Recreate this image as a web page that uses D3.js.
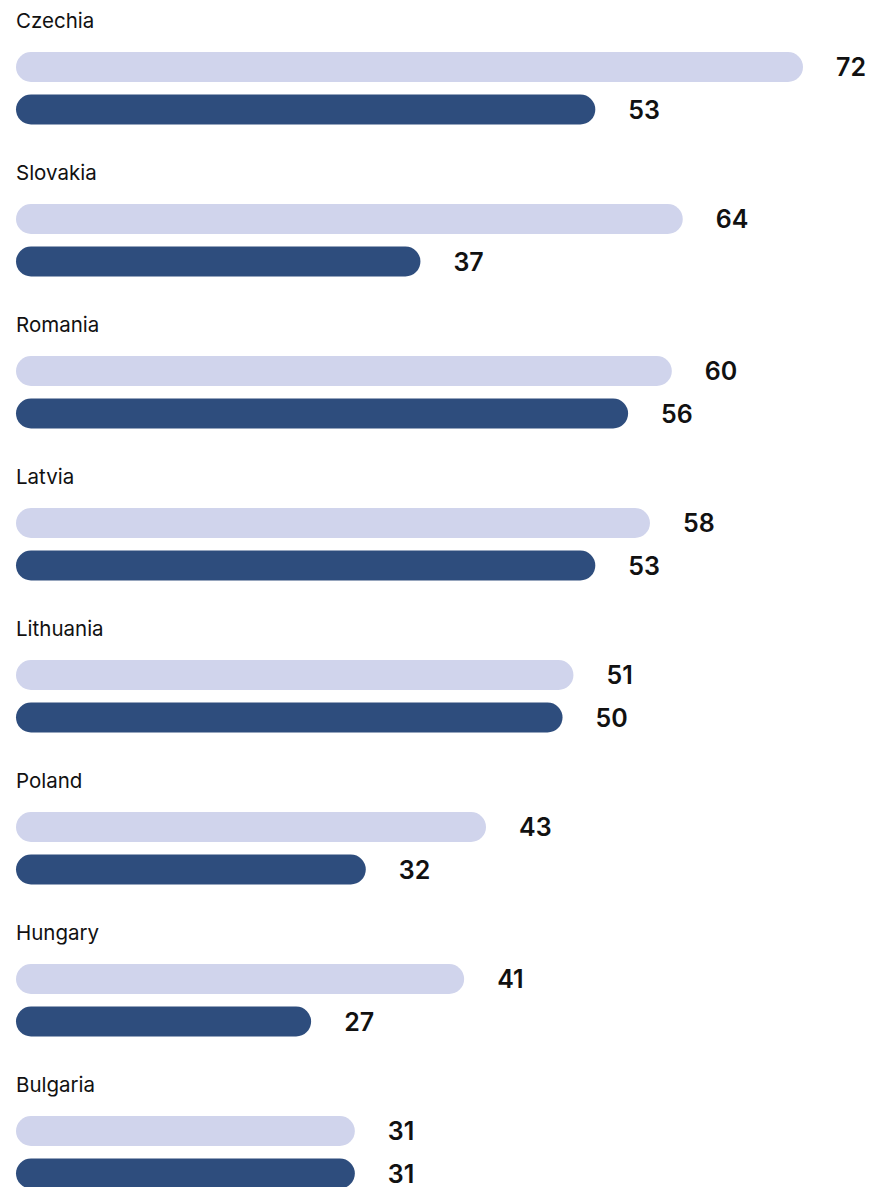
<!DOCTYPE html>
<html><head><meta charset="utf-8">
<script src="https://cdn.jsdelivr.net/npm/d3@7"></script>
<style>body{margin:0;background:#fff}svg{display:block}</style>
</head><body>
<script>
const categories = ["Czechia","Slovakia","Romania","Latvia","Lithuania","Poland","Hungary","Bulgaria"];
// bar lengths as drawn in the reference
const seriesA = [72,61,60,58,51,43,41,31];
const seriesB = [53,37,56,53,50,32,27,31];
// value labels as printed in the reference
const labelsA = ["72","64","60","58","51","43","41","31"];
const labelsB = ["53","37","56","53","50","32","27","31"];

const W = 873, H = 1187;
const svg = d3.select("body").append("svg").attr("width",W).attr("height",H);
const x = d3.scaleLinear().domain([0,72]).range([16,803]);
const y = d3.scaleBand().domain(categories).range([0,1216]);
const barH = 30;
const font = "Inter, 'Noto Sans', sans-serif";

const g = svg.selectAll("g.cat").data(categories).join("g")
  .attr("transform", d => `translate(0,${y(d)})`);

g.append("text").attr("x",16).attr("y",28).text(d=>d)
  .attr("font-family",font).attr("font-size",20.5).attr("fill","#111");

const rows = [{vals:seriesA, labels:labelsA, color:"#d0d4ec", cy:67},
              {vals:seriesB, labels:labelsB, color:"#2e4d7d", cy:109.5}];
rows.forEach(r=>{
  g.append("rect")
    .attr("x",x(0)).attr("y",r.cy-barH/2)
    .attr("width",(d,i)=>x(r.vals[i])-x(0)).attr("height",barH)
    .attr("rx",barH/2).attr("fill",r.color);
  g.append("text")
    .attr("x",(d,i)=>x(r.vals[i])+33).attr("y",r.cy+9)
    .text((d,i)=>r.labels[i])
    .attr("font-family",font).attr("font-size",25).attr("font-weight",600).attr("fill","#111");
});
</script>
</body></html>
